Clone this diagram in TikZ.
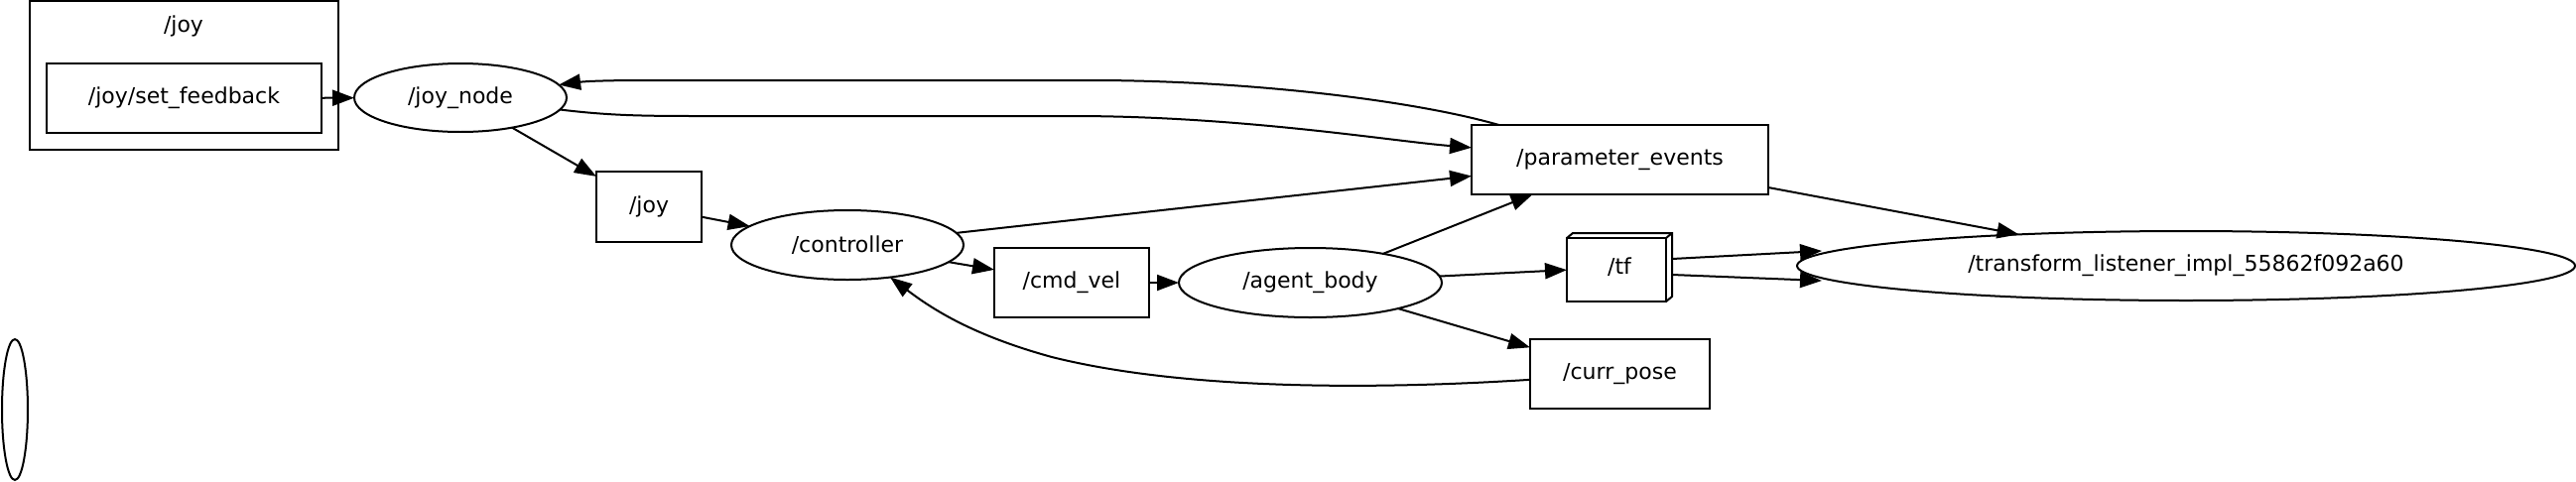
\documentclass[tikz,border=0pt]{standalone}
\usepackage{fontspec}
\setmainfont{DejaVu Sans}
\usetikzlibrary{positioning,arrows.meta,calc,shapes.geometric}
\tikzset{
    base/.style={font=\fontsize{22}{26}\selectfont, align=center, inner sep=0pt, outer sep=0pt},
    topic/.style={base, rectangle, draw, line width=2pt, minimum height=70pt},
    rosnode/.style={base, ellipse, draw, line width=2pt, minimum height=70pt},
    cluster/.style={base, rectangle, draw, line width=2pt},
    flow/.style={-{Triangle[length=22pt, width=16pt]}, line width=2pt}
}

\begin{document}
\begin{tikzpicture}[x=1pt, y=-1pt]
  \useasboundingbox (0,0) rectangle (2596,485);

  % Nodes
  \node[cluster, minimum width=311pt, minimum height=150pt] (joy_grp) at (185.5,76) {};
  \node[base] (joy_grp_lbl) at (185,26) {/joy};
  \node[topic, minimum width=277pt] (set_fb) at (185.5,99) {/joy/set\_feedback};
  \node[rosnode, minimum width=214pt, minimum height=69pt] (joy_node) at (464,98.5) {/joy\_node};
  \node[topic, minimum width=106pt, minimum height=71pt] (joy) at (654,208.5) {/joy};
  \node[rosnode, minimum width=234pt] (controller) at (854,247) {/controller};
  \node[topic, minimum width=156pt] (cmd_vel) at (1080,285) {/cmd\_vel};
  \node[rosnode, minimum width=265pt] (agent_body) at (1320.5,285) {/agent\_body};
  \node[topic, minimum width=299pt] (param_events) at (1632.5,161) {/parameter\_events};
  \node[base, minimum width=106pt, minimum height=69pt] (tf) at (1632,269.5) {/tf};
  \node[topic, minimum width=181pt] (curr_pose) at (1632.5,377) {/curr\_pose};
  \node[rosnode, minimum width=784pt] (tf_listener) at (2203,268) {/transform\_listener\_impl\_55862f092a60};
  \node[rosnode, minimum width=26pt, minimum height=142pt] (empty_node) at (15,413) {};

  % box3d look of /tf
  \draw[line width=2pt] (tf.south west) rectangle ($(tf.north east)+(-6,5)$);
  \draw[line width=2pt] ($(tf.north west)+(0,5)$) -- ($(tf.north west)+(6,0)$) -- (tf.north east)
    -- ($(tf.south east)+(0,-5)$) -- ($(tf.south east)+(-6,0)$);
  \draw[line width=2pt] ($(tf.north east)+(-6,5)$) -- (tf.north east);

  % Edges
  \draw[flow] (set_fb) -- (joy_node);
  \draw[flow] (joy_node) -- (joy);
  \draw[flow] (joy) -- (controller);
  \draw[flow] (controller) -- (cmd_vel);
  \draw[flow] (cmd_vel) -- (agent_body);
  \draw[flow] (agent_body) -- (param_events);
  \draw[flow] (agent_body) -- (tf);
  \draw[flow] (agent_body) -- (curr_pose);
  \draw[flow] (controller) -- (param_events);
  \draw[flow] (param_events) -- (tf_listener);
  \draw[flow] ([yshift=8.5pt]tf.east) -- ([xshift=25pt, yshift=15pt]tf_listener.west);
  \draw[flow] ([yshift=-7.5pt]tf.east) -- ([xshift=25pt, yshift=-15pt]tf_listener.west);
  \draw[flow] (joy_node) .. controls (610,116) and (640,117) .. (700,117) -- (1080,117)
    .. controls (1250,117) and (1400,142) .. (param_events);
  \draw[flow] (param_events) .. controls (1420,100) and (1250,81) .. (1100,81) -- (650,81)
    .. controls (610,81) and (590,82) .. (joy_node);
  \draw[flow] (curr_pose) .. controls (1400,392) and (1200,395) .. (1060,360)
    .. controls (980,338) and (940,312) .. (controller);
\end{tikzpicture}
\end{document}
